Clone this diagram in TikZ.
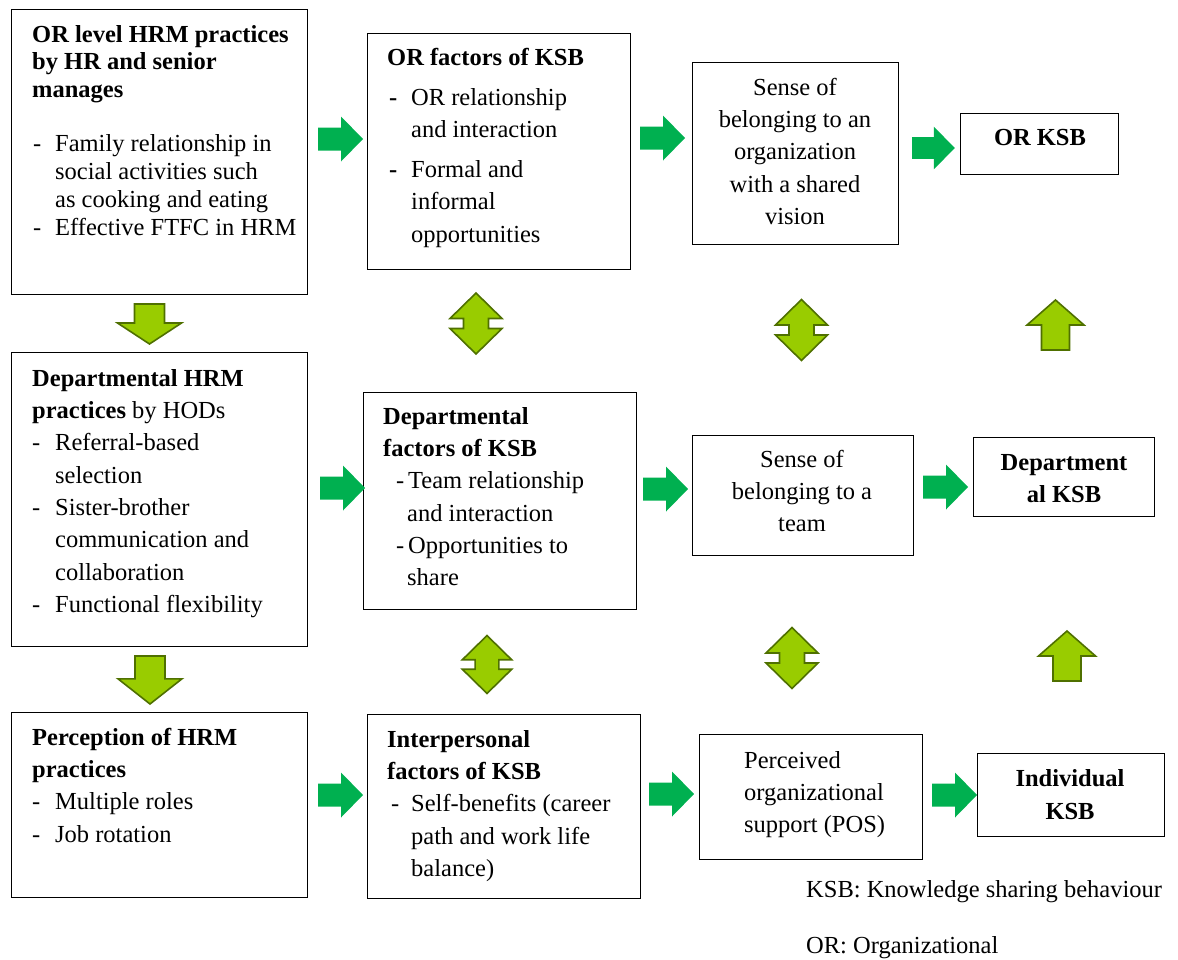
\documentclass[tikz,border=0pt]{standalone}
\usepackage{fontspec}
\setmainfont{Liberation Serif}
\usetikzlibrary{fit}
\definecolor{arrgreen}{HTML}{00B050}
\definecolor{olivefill}{HTML}{99CC00}
\definecolor{olivedraw}{HTML}{4F7000}
\newcommand\firstln{\rule{0pt}{20pt}}
\newcommand\bul[1]{\makebox[#1][l]{-}}
\newcommand\bbul[1]{\makebox[#1][l]{\textbf{-}}}
\begin{document}
\begin{tikzpicture}[x=1pt,y=-1pt,
  box/.style={draw=black, line width=1pt, inner sep=0pt, outer sep=0pt},
  txt/.style={anchor=north west, inner sep=0pt, align=left, font=\fontsize{24.5}{32.3}\selectfont},
  ctxt/.style={anchor=north, inner sep=0pt, align=center, font=\fontsize{24.5}{32.3}\selectfont},
  rarr/.pic={\fill[arrgreen] (0,-11.5) -- (23,-11.5) -- (23,-22.5) -- (45,0) -- (23,22.5) -- (23,11.5) -- (0,11.5) -- cycle;},
  darr/.pic={\filldraw[fill=olivefill, draw=olivedraw, line width=1.6pt, line join=miter] (-15,0) -- (15,0) -- (15,19) -- (32,19) -- (0,40) -- (-32,19) -- (-15,19) -- cycle;},
  uarr/.pic={\filldraw[fill=olivefill, draw=olivedraw, line width=1.6pt, line join=miter] (-14,0) -- (14,0) -- (14,-25) -- (28.5,-25) -- (0,-50) -- (-28.5,-25) -- (-14,-25) -- cycle;},
  udarr/.pic={\filldraw[fill=olivefill, draw=olivedraw, line width=1.6pt, line join=miter] (0,-30.5) -- (26,-5) -- (12.5,-5) -- (12.5,5) -- (26,5) -- (0,30.5) -- (-26,5) -- (-12.5,5) -- (-12.5,-5) -- (-26,-5) -- cycle;}
]
\useasboundingbox (0,0) rectangle (1178,959);

% boxes
\node[box, fit={(11,9) (307,294)}] (A) {};
\node[box, fit={(11,352) (307,646)}] (B) {};
\node[box, fit={(11,712) (307,897)}] (C) {};
\node[box, fit={(367,33) (630,269)}] (D) {};
\node[box, fit={(363,392) (636,609)}] (E) {};
\node[box, fit={(367,714) (640,898)}] (F) {};
\node[box, fit={(692,62) (898,244)}] (G) {};
\node[box, fit={(692,435) (913,555)}] (H) {};
\node[box, fit={(699,734) (922,859)}] (I) {};
\node[box, fit={(960,113) (1118,174)}] (J) {};
\node[box, fit={(973,437) (1154,516)}] (K) {};
\node[box, fit={(977,753) (1164,836)}] (L) {};

% texts column 1
\node[txt, font=\fontsize{24.5}{27.5}\selectfont] (Atitle) at (32,22)
  {\firstln\textbf{OR level HRM practices}\\\textbf{by HR and senior}\\\textbf{manages}};
\node[txt, font=\fontsize{24.5}{28}\selectfont] (Abody) at (33,131)
  {\firstln\bul{22pt}Family relationship in\\\hspace*{22pt}social activities such\\\hspace*{22pt}as cooking and eating\\\bul{22pt}Effective FTFC in HRM};
\node[txt] (Btext) at (32,366)
  {\firstln\textbf{Departmental HRM}\\\textbf{practices} by HODs\\\bul{23pt}Referral-based\\\hspace*{23pt}selection\\\bul{23pt}Sister-brother\\\hspace*{23pt}communication and\\\hspace*{23pt}collaboration\\\bul{23pt}Functional flexibility};
\node[txt] (Ctext) at (32,725)
  {\firstln\textbf{Perception of HRM}\\\textbf{practices}\\\bul{23pt}Multiple roles\\\bul{23pt}Job rotation};

% texts column 2
\node[txt] (Dtitle) at (387,45) {\firstln\textbf{OR factors of KSB}};
\node[txt] (Dbody) at (389,85)
  {\firstln\bbul{22pt}OR relationship\\\hspace*{22pt}and interaction\\[7.7pt]\bbul{22pt}Formal and\\\hspace*{22pt}informal\\\hspace*{22pt}opportunities};
\node[txt] (Etext) at (383,404)
  {\firstln\textbf{Departmental}\\\textbf{factors of KSB}\\\hspace*{13pt}\bul{12pt}Team relationship\\\hspace*{24pt}and interaction\\\hspace*{13pt}\bul{12pt}Opportunities to\\\hspace*{24pt}share};
\node[txt] (Ftext) at (387,727)
  {\firstln\textbf{Interpersonal}\\\textbf{factors of KSB}\\\hspace*{4pt}\bul{20pt}Self-benefits (career\\\hspace*{24pt}path and work life\\\hspace*{24pt}balance)};

% texts column 3
\node[ctxt] (Gtext) at (795,75)
  {\firstln Sense of\\belonging to an\\organization\\with a shared\\vision};
\node[ctxt] (Htext) at (802,447)
  {\firstln Sense of\\belonging to a\\team};
\node[txt] (Itext) at (744,748)
  {\firstln Perceived\\organizational\\support (POS)};

% texts column 4
\node[ctxt] (Jtext) at (1040,125) {\firstln\textbf{OR KSB}};
\node[ctxt] (Ktext) at (1064,450) {\firstln\textbf{Department}\\\textbf{al KSB}};
\node[ctxt, font=\fontsize{24.5}{33}\selectfont] (Ltext) at (1070,766) {\firstln\textbf{Individual}\\\textbf{KSB}};

% footnotes
\node[txt] (note1) at (806,877) {\firstln KSB: Knowledge sharing behaviour};
\node[txt] (note2) at (806,933) {\firstln OR: Organizational};

% green arrows
\pic at (318,139) {rarr};
\pic at (640,138) {rarr};
\pic[scale=0.95] at (912,148) {rarr};
\pic at (320,488) {rarr};
\pic at (643,489) {rarr};
\pic at (923,487) {rarr};
\pic at (318,795) {rarr};
\pic at (649,794) {rarr};
\pic at (932,795) {rarr};

% olive arrows
\pic at (149.5,304) {darr};
\pic[yscale=1.2] at (150,656) {darr};
\pic at (1055.5,350) {uarr};
\pic at (1067,681) {uarr};
\pic at (476,323.5) {udarr};
\pic at (801.5,330) {udarr};
\pic[scale=0.95] at (487,664.5) {udarr};
\pic at (792,658) {udarr};
\end{tikzpicture}
\end{document}
